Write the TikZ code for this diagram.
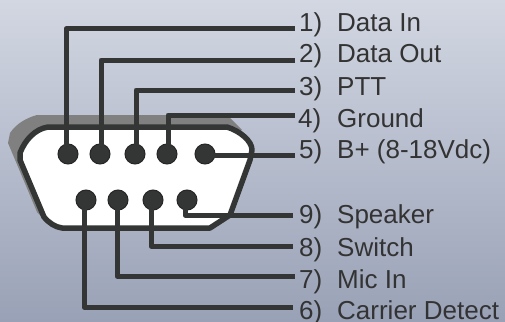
\documentclass[tikz,border=0pt]{standalone}
\usepackage{fontspec}
\setmainfont{Liberation Sans}
\definecolor{wirecol}{HTML}{333635}
\definecolor{textcol}{HTML}{333333}
\definecolor{bgtop}{HTML}{D2D7E2}
\definecolor{bgbottom}{HTML}{99A1B6}
\definecolor{shellback}{HTML}{808080}
\tikzstyle{pin} = [circle, minimum width=20pt, inner sep=0pt, draw=black!85, line width=1pt, fill=wirecol]
\tikzstyle{wire} = [wirecol, line width=5pt, line join=round]
\tikzstyle{shell} = [draw=wirecol, line width=5.5pt, fill=white, line join=round]
\tikzstyle{pinlabel} = [anchor=base west, inner sep=0pt, text=textcol, font=\fontsize{26}{26}\selectfont]
\newcommand{\pinno}[1]{\makebox[38pt][l]{#1}}

\begin{document}
\begin{tikzpicture}[x=1pt, y=-1pt]
            \shade[top color=bgtop, bottom color=bgbottom] (0,0) rectangle (505,321);
            \useasboundingbox (0,0) rectangle (505,321);

            % connector body
            \fill[shellback] (37,115) -- (227,115) -- (242,130) -- (50,225) -- (37,212) -- (8,143) -- (10,133) .. controls (16,124) and (26,118) .. (37,115) -- cycle;
            \draw[shell] (48,127) -- (227,127) .. controls (240,131) and (252,141) .. (252,150) -- (250,160) -- (230,215) -- (210,228) -- (62,228) .. controls (55,227) and (49,223) .. (44,217) -- (20,160) -- (20,153) .. controls (25,140) and (35,129) .. (48,127) -- cycle;

            \node(pin1) [pin] at (68,154) {};
            \node(pin2) [pin] at (100,154) {};
            \node(pin3) [pin] at (135,154) {};
            \node(pin4) [pin] at (167,154) {};
            \node(pin5) [pin] at (205,154) {};
            \node(pin6) [pin] at (86,200) {};
            \node(pin7) [pin] at (118,200) {};
            \node(pin8) [pin] at (153,200) {};
            \node(pin9) [pin] at (187,200) {};

            \coordinate(end1) at (295,29);
            \coordinate(end2) at (295,60);
            \coordinate(end3) at (295,90);
            \coordinate(end4) at (295,115);
            \coordinate(end5) at (295,155);
            \coordinate(end9) at (293,215);
            \coordinate(end8) at (293,246);
            \coordinate(end7) at (295,276);
            \coordinate(end6) at (293,307);

            \draw[wire] ([xshift=-2pt]pin1.center) |- (end1);
            \draw[wire] ([xshift=1pt]pin2.center) |- (end2);
            \draw[wire] ([xshift=1pt]pin3.center) |- (end3);
            \draw[wire] ([xshift=1pt]pin4.center) |- (end4);
            \draw[wire] (pin5.center) |- (end5);
            \draw[wire] ([xshift=-2pt]pin9.center) |- (end9);
            \draw[wire] ([xshift=-2pt]pin8.center) |- (end8);
            \draw[wire] ([xshift=-1pt]pin7.center) |- (end7);
            \draw[wire] ([xshift=-2pt]pin6.center) |- (end6);

            \node(label1) [pinlabel] at (299,32) {\pinno{1)}Data In};
            \node(label2) [pinlabel] at (299,63) {\pinno{2)}Data Out};
            \node(label3) [pinlabel] at (299,95) {\pinno{3)}PTT};
            \node(label4) [pinlabel] at (299,127) {\pinno{\hspace{-1pt}4)}Ground};
            \node(label5) [pinlabel] at (299,158) {\pinno{5)}B+ (8-18Vdc)};
            \node(label9) [pinlabel] at (299,223) {\pinno{9)}Speaker};
            \node(label8) [pinlabel] at (299,256) {\pinno{8)}Switch};
            \node(label7) [pinlabel] at (299,288) {\pinno{7)}Mic In};
            \node(label6) [pinlabel] at (299,319) {\pinno{6)}Carrier Detect};
        \end{tikzpicture}
\end{document}
